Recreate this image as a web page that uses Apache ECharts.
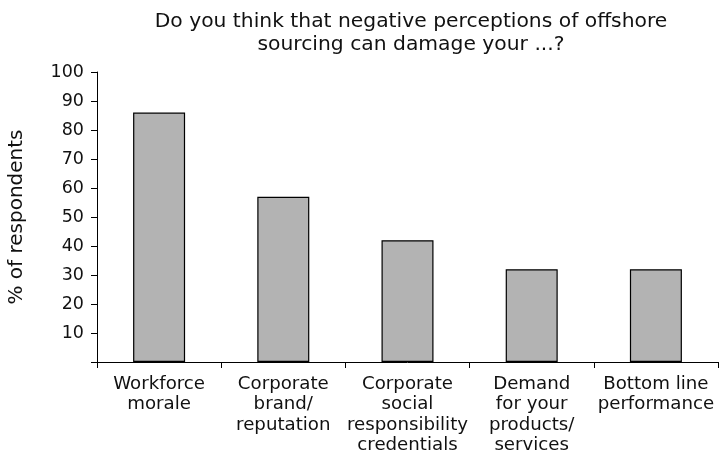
<!DOCTYPE html>
<html><head><meta charset="utf-8">
<script src="https://cdn.jsdelivr.net/npm/echarts@6/dist/echarts.min.js"></script>
<style>html,body{margin:0;padding:0;background:#fff}#c{width:719px;height:456px}</style>
</head><body><div id="c"></div>
<script>
const categories = ["Workforce\nmorale", "Corporate\nbrand/\nreputation", "Corporate\nsocial\nresponsibility\ncredentials", "Demand\nfor your\nproducts/\nservices", "Bottom line\nperformance"];
const values = [86, 57, 42, 32, 32];
const titleText = "Do you think that negative perceptions of offshore\nsourcing can damage your ...?";
const yName = "% of respondents";

const chart = echarts.init(document.getElementById('c'), null, {renderer: 'canvas'});
const font = '"DejaVu Sans", sans-serif';
chart.setOption({
  animation: false,
  title: {
    text: titleText, left: 406, top: 5, textAlign: 'center',
    textStyle: {fontFamily: font, fontSize: 20.3, fontWeight: 'normal', color: '#111', lineHeight: 23}
  },
  grid: {left: 97, right: 1, top: 72, bottom: 94, containLabel: false, outerBoundsMode: 'none'},
  xAxis: {
    type: 'category', data: categories,
    axisLine: {lineStyle: {color: '#000', width: 1}},
    axisTick: {show: true, length: 6, lineStyle: {color: '#000'}},
    axisLabel: {interval: 0, margin: 12, fontFamily: font, fontSize: 18.2, color: '#111', lineHeight: 20.5}
  },
  yAxis: {
    type: 'value', min: 0, max: 100, interval: 10,
    name: yName, nameLocation: 'middle', nameGap: 70, nameRotate: 90,
    nameTextStyle: {fontFamily: font, fontSize: 20, color: '#111'},
    axisLine: {show: true, lineStyle: {color: '#000', width: 1}},
    axisTick: {show: true, length: 6, lineStyle: {color: '#000'}},
    splitLine: {show: false},
    axisLabel: {margin: 13, fontFamily: font, fontSize: 17.5, color: '#111', formatter: v => v === 0 ? '' : v}
  },
  series: [{
    type: 'bar', data: values, barWidth: 52,
    itemStyle: {color: '#b3b3b3', borderColor: '#000', borderWidth: 1.2}
  }]
});
</script></body></html>
